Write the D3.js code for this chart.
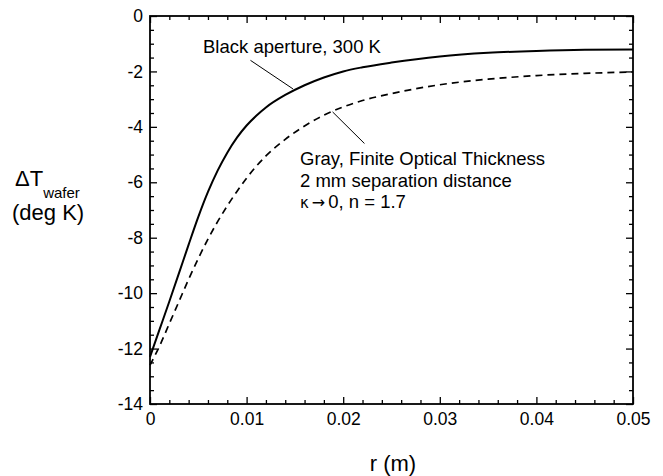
<!DOCTYPE html>
<html>
<head>
<meta charset="utf-8">
<script src="https://cdn.jsdelivr.net/npm/d3@7"></script>
<style>
  html, body { margin: 0; padding: 0; background: #fff; }
  svg { display: block; font-family: "Liberation Sans", Arial, sans-serif; }
</style>
</head>
<body>
<svg id="chart" width="663" height="476"></svg>
<script>
// ---- data ----
const rBlack = [0, 0.001, 0.002, 0.003, 0.004, 0.005, 0.006, 0.007, 0.008, 0.009, 0.010, 0.011, 0.012, 0.014, 0.016, 0.018, 0.020, 0.022, 0.025, 0.030, 0.035, 0.040, 0.045, 0.050];
const dtBlack = [-12.3, -11.3, -10.3, -9.28, -8.25, -7.25, -6.35, -5.58, -4.93, -4.39, -3.95, -3.6, -3.3, -2.85, -2.5, -2.22, -2.0, -1.85, -1.68, -1.46, -1.33, -1.26, -1.22, -1.21];
const rGray = [0, 0.001, 0.002, 0.003, 0.004, 0.005, 0.006, 0.007, 0.008, 0.009, 0.010, 0.011, 0.012, 0.014, 0.016, 0.018, 0.020, 0.022, 0.025, 0.030, 0.035, 0.040, 0.045, 0.050];
const dtGray = [-12.6, -11.9, -11.1, -10.3, -9.5, -8.75, -8.05, -7.42, -6.85, -6.33, -5.85, -5.42, -5.05, -4.45, -3.97, -3.58, -3.28, -3.05, -2.8, -2.48, -2.28, -2.15, -2.07, -2.02];
const xTicks = [0, 0.01, 0.02, 0.03, 0.04, 0.05];
const xTickLabels = ["0", "0.01", "0.02", "0.03", "0.04", "0.05"];
const yTicks = [0, -2, -4, -6, -8, -10, -12, -14];
const yTickLabels = ["0", "-2", "-4", "-6", "-8", "-10", "-12", "-14"];
const labelBlack = "Black aperture, 300 K";
const labelGray = ["Gray, Finite Optical Thickness", "2 mm separation distance"];

// ---- layout ----
const svg = d3.select("#chart");
const L = 150, R = 633, T = 16, B = 404;
const x = d3.scaleLinear().domain([0, 0.05]).range([L, R]);
const y = d3.scaleLinear().domain([-14, 0]).range([B, T]);

const g = svg.append("g");

const xMinor = d3.range(0, 0.0501, 0.002).filter(v => Math.abs(v / 0.01 - Math.round(v / 0.01)) > 1e-6);
const yMinor = d3.range(-14, 0.01, 0.5).filter(v => Math.abs(v / 2 - Math.round(v / 2)) > 1e-6);
const MAJ = 7, MIN = 4;
const TF = 17.5;

function addAxis(axisFn, scale, pos, vals, size, fmt, pad) {
  const a = axisFn(scale).tickValues(vals).tickSize(-size);
  a.tickFormat(fmt ? (d, i) => fmt[i] : "");
  if (pad !== undefined) a.tickPadding(pad);
  const isX = (axisFn === d3.axisBottom || axisFn === d3.axisTop);
  g.append("g").attr("transform", isX ? `translate(0,${pos})` : `translate(${pos},0)`)
    .call(a).call(s => s.select(".domain").remove());
}
addAxis(d3.axisBottom, x, B, xTicks, MAJ, xTickLabels, 9);
addAxis(d3.axisBottom, x, B, xMinor, MIN);
addAxis(d3.axisTop, x, T, xTicks, MAJ);
addAxis(d3.axisTop, x, T, xMinor, MIN);
addAxis(d3.axisLeft, y, L, yTicks, MAJ, yTickLabels, 7);
addAxis(d3.axisLeft, y, L, yMinor, MIN);
addAxis(d3.axisRight, y, R, yTicks, MAJ);
addAxis(d3.axisRight, y, R, yMinor, MIN);

g.selectAll(".tick line").attr("stroke", "#000").attr("stroke-width", 1.3);
g.selectAll(".tick text").attr("font-size", TF).attr("fill", "#000")
  .attr("font-family", "'Liberation Sans', Arial, sans-serif");

// frame
g.append("rect").attr("x", L).attr("y", T).attr("width", R - L).attr("height", B - T)
  .attr("fill", "none").attr("stroke", "#000").attr("stroke-width", 1.8);

// curves
const line = d3.line().x(d => x(d[0])).y(d => y(d[1])).curve(d3.curveMonotoneX);
g.append("path").datum(rBlack.map((r, i) => [r, dtBlack[i]]))
  .attr("d", line).attr("fill", "none").attr("stroke", "#000").attr("stroke-width", 2);
g.append("path").datum(rGray.map((r, i) => [r, dtGray[i]]))
  .attr("d", line).attr("fill", "none").attr("stroke", "#000").attr("stroke-width", 1.7)
  .attr("stroke-dasharray", "7,5");

// annotations
const af = 18.5;
g.append("text").attr("x", 203).attr("y", 53).attr("font-size", af).text(labelBlack);
g.append("line").attr("x1", x(0.0104)).attr("y1", y(-1.6)).attr("x2", x(0.0148)).attr("y2", y(-2.63))
  .attr("stroke", "#000").attr("stroke-width", 1);
labelGray.forEach((t, i) => {
  g.append("text").attr("x", 300).attr("y", 165 + i * 21.5).attr("font-size", af).text(t);
});
const k = g.append("text").attr("x", 300).attr("y", 208).attr("font-size", af);
k.append("tspan").attr("font-family", "'DejaVu Sans', sans-serif").attr("font-size", 15).text("\u03BA");
k.append("tspan").attr("font-family", "'DejaVu Sans', sans-serif").attr("font-size", 16).attr("dx", 3).text("\u2192");
k.append("tspan").attr("dx", 3).text("0, n = 1.7");
g.append("line").attr("x1", x(0.0189)).attr("y1", y(-3.46)).attr("x2", x(0.0222)).attr("y2", y(-4.6))
  .attr("stroke", "#000").attr("stroke-width", 1);

// axis titles
const yt = g.append("text").attr("x", 15).attr("y", 186).attr("font-size", 22);
yt.append("tspan").text("\u0394T");
yt.append("tspan").attr("dy", 12).attr("font-size", 15).text("wafer");
g.append("text").attr("x", 12).attr("y", 220).attr("font-size", 22).text("(deg K)");
g.append("text").attr("x", 393).attr("y", 471).attr("text-anchor", "middle").attr("font-size", 22).text("r (m)");
</script>
</body>
</html>
